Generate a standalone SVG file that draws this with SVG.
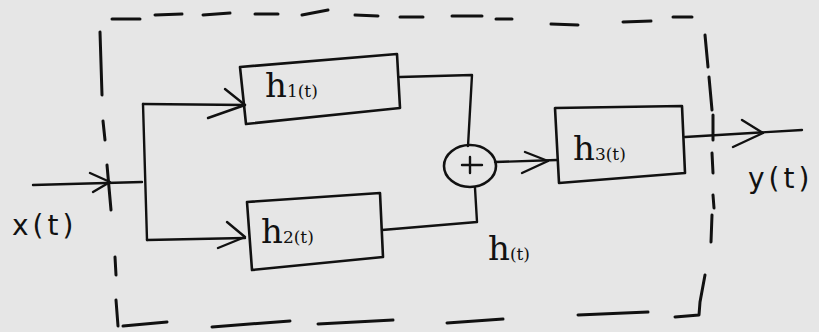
<svg xmlns="http://www.w3.org/2000/svg" width="819" height="332" viewBox="0 0 819 332">
<style>
.ln{fill:none;stroke:#111;stroke-width:2.4;stroke-linecap:round;stroke-linejoin:round}
.ds{fill:none;stroke:#111;stroke-width:3;stroke-linecap:round;stroke-linejoin:round}
.blk{fill:none;stroke:#111;stroke-width:2.6;stroke-linejoin:round}
.h{font-family:"DejaVu Serif","Liberation Serif",serif;font-size:34px;fill:#111}
.sub{font-size:17px}
.hand{font-family:"DejaVu Sans","Liberation Sans",sans-serif;font-size:28px;fill:#111;letter-spacing:4px}
</style>
<rect width="819" height="332" fill="#e6e6e6"/>
<g id="boundary" class="ds">
<path d="M112,19 L140,19"/>
<path d="M155,15 L182,14"/>
<path d="M203,15 L230,13"/>
<path d="M255,14 L278,14"/>
<path d="M302,15 L328,10"/>
<path d="M355,15 L378,16"/>
<path d="M400,17 L423,17"/>
<path d="M452,16 L482,16"/>
<path d="M496,19 L512,19"/>
<path d="M551,24 L578,25"/>
<path d="M623,22 L651,21"/>
<path d="M673,17 L692,17"/>
<path d="M100,32 L102,95"/>
<path d="M103,121 L105,140"/>
<path d="M107,165 L111,210"/>
<path d="M115,257 L116,275"/>
<path d="M116,300 L118,326"/>
<path d="M123,326 L167,322"/>
<path d="M212,327 L290,321"/>
<path d="M318,324 L393,320"/>
<path d="M447,323 L503,319"/>
<path d="M578,315 L648,312"/>
<path d="M675,317 L699,315 L700,302 L705,275"/>
<path d="M705,35 L708,67"/>
<path d="M709,77 L712,110"/>
<path d="M713,115 L713,140"/>
<path d="M712,153 L713,173"/>
<path d="M713,195 L714,208"/>
<path d="M712,215 L711,242"/>
</g>
<g id="connectors" class="ln">
<path d="M33,185 L142,182"/>
<path d="M90,173 L110,182 L93,192"/>
<path d="M143,104 L147,240"/>
<path d="M143,104 L245,105"/>
<path d="M225,89 L245,105 L208,118"/>
<path d="M147,240 L245,238"/>
<path d="M227,222 L245,237 L218,248"/>
<path d="M400,77 L472,75 L468,146"/>
<path d="M382,230 L477,222 L475,188"/>
<path d="M495,162 L557,160"/>
<path d="M525,152 L548,161 L522,173"/>
<path d="M685,137 L802,130"/>
<path d="M742,120 L763,133 L733,147"/>
</g>
<g id="h1">
<path class="blk" d="M240,67 L397,54 L400,108 L246,124 Z"/>
<text class="h" x="265" y="97">h<tspan class="sub">1(t)</tspan></text>
</g>
<g id="h2">
<path class="blk" d="M247,202 L380,193 L383,257 L252,270 Z"/>
<text class="h" x="261" y="243">h<tspan class="sub">2(t)</tspan></text>
</g>
<g id="h3">
<path class="blk" d="M555,108 L682,106 L685,173 L559,183 Z"/>
<text class="h" x="573" y="160">h<tspan class="sub">3(t)</tspan></text>
</g>
<g id="sum">
<ellipse class="blk" cx="470" cy="166" rx="26" ry="21"/>
<path class="ln" d="M462,165 L482,165 M470,157 L470,173"/>
</g>
<g id="label-h">
<text class="h" x="488" y="260">h<tspan class="sub">(t)</tspan></text>
</g>
<g id="label-x">
<text class="hand" x="12" y="235">x(t)</text>
</g>
<g id="label-y">
<text class="hand" x="748" y="188">y(t)</text>
</g>
</svg>
